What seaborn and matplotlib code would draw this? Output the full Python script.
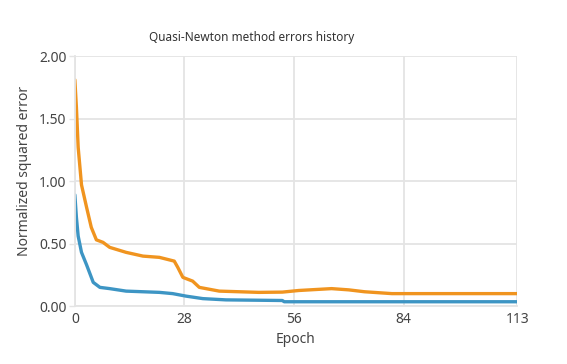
import matplotlib
matplotlib.use("Agg")
import matplotlib.pyplot as plt
import seaborn as sns
import pandas as pd

# values
epochs_a = [0, 0.4, 0.85, 1.7, 3, 4.2, 5.5, 7.2, 8.9, 13.1, 17.4, 21.6, 25.4, 26.3,
            27.6, 30.1, 31.8, 36.9, 47, 53, 57.2, 65.6, 70, 74, 81, 113]
errors_a = [1.81, 1.59, 1.27, 0.97, 0.79, 0.63, 0.53, 0.51, 0.47, 0.43, 0.40, 0.39,
            0.36, 0.31, 0.23, 0.20, 0.15, 0.12, 0.11, 0.112, 0.125, 0.14, 0.13,
            0.115, 0.10, 0.10]

epochs_b = [0, 0.4, 0.85, 1.7, 3, 4.7, 6.4, 8.9, 13.1, 21.6, 25, 28.4, 32.7, 38.6,
            53, 53.5, 113]
errors_b = [0.89, 0.71, 0.56, 0.43, 0.33, 0.19, 0.15, 0.14, 0.12, 0.11, 0.10, 0.08,
            0.06, 0.05, 0.045, 0.035, 0.035]

x_ticks = [0, 28, 56, 84, 113]
y_ticks = [0.0, 0.5, 1.0, 1.5, 2.0]

orange = "#f0941f"
blue = "#3d95c4"
text_col = "#444444"
grid_col = "#e4e4e4"

sns.set_theme(style="white")
plt.rcParams["font.family"] = ["Noto Sans", "DejaVu Sans"]

fig = plt.figure(figsize=(5.67, 3.64), dpi=100)
ax = fig.add_axes([0.132, 0.159, 0.780, 0.687])

df_a = pd.DataFrame({"epoch": epochs_a, "error": errors_a})
df_b = pd.DataFrame({"epoch": epochs_b, "error": errors_b})
sns.lineplot(data=df_a, x="epoch", y="error", color=orange, linewidth=2.4, ax=ax)
sns.lineplot(data=df_b, x="epoch", y="error", color=blue, linewidth=2.4, ax=ax)

ax.set_xlim(0, 113)
ax.set_ylim(0, 2)
ax.set_xticks(x_ticks)
ax.set_yticks(y_ticks)
ax.set_yticklabels([f"{v:.2f}" for v in y_ticks])
ax.grid(True, color=grid_col, linewidth=1.3)
ax.set_axisbelow(True)
for side in ["top", "right"]:
    ax.spines[side].set_visible(False)
for side in ["left", "bottom"]:
    ax.spines[side].set_color(grid_col)
    ax.spines[side].set_linewidth(1.3)
ax.tick_params(axis="y", length=4, width=1, color=grid_col, labelsize=10,
               labelcolor=text_col, pad=2, left=True)
ax.tick_params(axis="x", length=0, labelsize=10, labelcolor=text_col, pad=4)

ax.set_xlabel("Epoch", fontsize=10, color=text_col, labelpad=4)
ax.set_ylabel("Normalized squared error", fontsize=10, color=text_col)
ax.yaxis.set_label_coords(-0.097, 0.54)
fig.text(0.444, 0.898, "Quasi-Newton method errors history", ha="center",
         va="center", fontsize=8.5, color="#333333")

fig.savefig("out.png", dpi=100)
